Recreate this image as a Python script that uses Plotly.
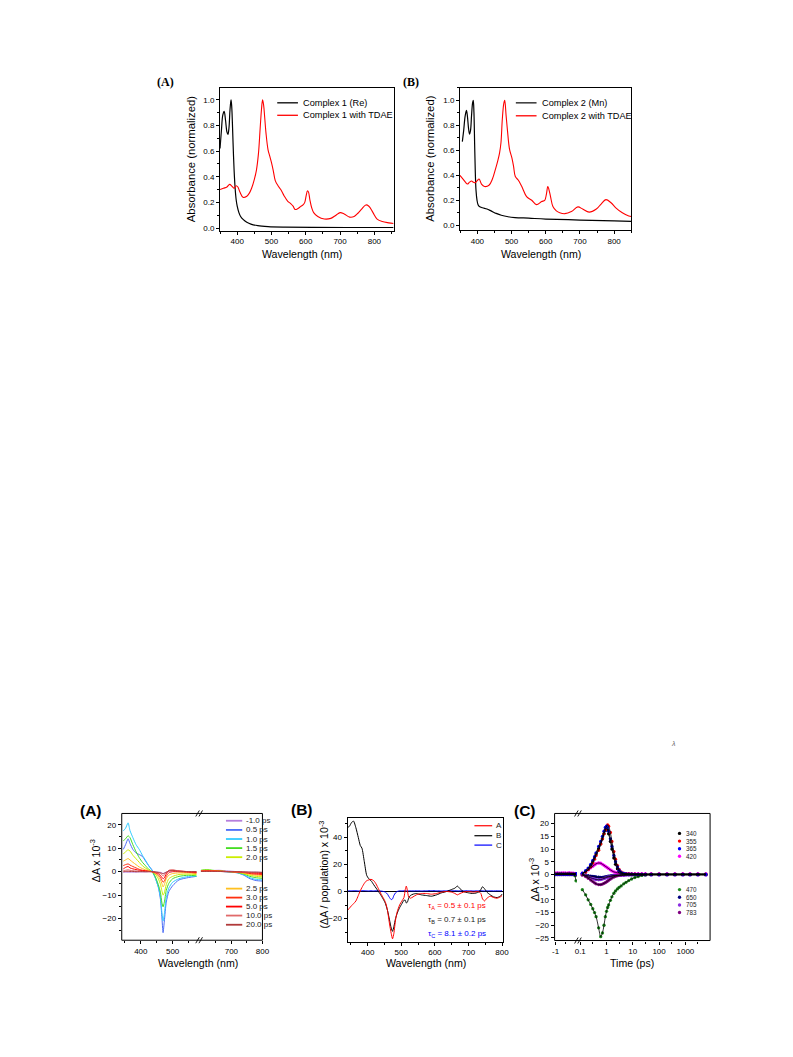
import plotly.graph_objects as go

PAGE_W, PAGE_H = 793, 1057
OFF = 8  # default body margin of the html page
W, H = PAGE_W - OFF, PAGE_H - OFF
FONT = "Arial, 'Liberation Sans', sans-serif"
SERIF = "'Times New Roman', 'Liberation Serif', serif"

# ---------------- Top (A): Complex 1 (Re) ----------------
wl_re = [350, 354, 358, 362, 366, 370, 373, 376, 379, 382, 384, 386, 388, 391, 394, 397, 400, 405,
         410, 418, 428, 440, 460, 490, 540, 620, 720, 856]
abs_re = [0.62, 0.76, 0.88, 0.91, 0.84, 0.75, 0.73, 0.78, 0.92, 1.0, 0.95, 0.82, 0.66, 0.45, 0.31,
          0.22, 0.17, 0.12, 0.09, 0.065, 0.045, 0.03, 0.018, 0.011, 0.007, 0.005, 0.004, 0.004]
wl_re_tdae = [350, 360, 370, 378, 385, 391, 397, 402, 408, 417, 427, 435, 442, 450, 456, 462, 467,
              471, 474, 477, 480, 484, 490, 495, 500, 505, 511, 519, 527, 537, 547, 556, 563, 569,
              576, 586, 592, 597, 601, 605, 608, 612, 617, 623, 635, 654, 673, 688, 700, 712, 728,
              741, 752, 762, 775, 784, 796, 808, 823, 842, 856]
abs_re_tdae = [0.30, 0.31, 0.32, 0.34, 0.325, 0.31, 0.33, 0.32, 0.28, 0.24, 0.245, 0.27, 0.31, 0.38,
               0.45, 0.58, 0.78, 0.93, 1.0, 0.96, 0.87, 0.74, 0.61, 0.56, 0.51, 0.45, 0.37, 0.33,
               0.30, 0.25, 0.21, 0.19, 0.17, 0.145, 0.15, 0.17, 0.18, 0.20, 0.25, 0.29, 0.28, 0.22,
               0.16, 0.12, 0.09, 0.07, 0.075, 0.10, 0.12, 0.11, 0.085, 0.09, 0.115, 0.145, 0.18,
               0.17, 0.12, 0.07, 0.05, 0.04, 0.035]

# ---------------- Top (B): Complex 2 (Mn) ----------------
wl_mn = [356, 360, 364, 368, 371, 374, 377, 380, 383, 386, 388, 390, 392, 394, 396, 399, 402, 406,
         415, 428, 440, 455, 470, 490, 510, 550, 600, 700, 800, 850]
abs_mn = [0.67, 0.76, 0.87, 0.92, 0.87, 0.78, 0.73, 0.76, 0.88, 0.98, 1.0, 0.9, 0.65, 0.42, 0.28,
          0.2, 0.165, 0.15, 0.14, 0.13, 0.115, 0.095, 0.08, 0.068, 0.062, 0.057, 0.05, 0.042,
          0.035, 0.032]
wl_mn_tdae = [349, 358, 365, 371, 377, 383, 388, 393, 399, 405, 412, 421, 434, 444, 453, 460, 465,
              469, 473, 477, 480, 484, 488, 494, 501, 506, 511, 520, 530, 544, 559, 573, 588, 597,
              602, 606, 609, 614, 621, 631, 641, 656, 675, 694, 708, 727, 748, 762, 776, 791, 805,
              824, 843, 850]
abs_mn_tdae = [0.40, 0.37, 0.345, 0.33, 0.345, 0.355, 0.345, 0.34, 0.355, 0.37, 0.33, 0.31, 0.32,
               0.37, 0.45, 0.52, 0.58, 0.66, 0.85, 0.97, 1.0, 0.88, 0.76, 0.61, 0.54, 0.47, 0.39,
               0.36, 0.31, 0.23, 0.2, 0.165, 0.19, 0.2, 0.25, 0.31, 0.29, 0.23, 0.15, 0.115, 0.1,
               0.093, 0.11, 0.147, 0.13, 0.105, 0.13, 0.17, 0.205, 0.18, 0.14, 0.1, 0.075, 0.07]

# ---------------- Bottom (A): transient spectra ----------------
wl_left = [345, 352, 360, 366, 375, 385, 395, 405, 415, 425, 435, 445, 455, 462, 466, 470, 474,
           480, 488, 500, 520, 550, 575]
wl_right = [602, 620, 640, 660, 680, 700, 720, 740, 760, 780, 800]
delay_labels = ["-1.0 ps", "0.5 ps", "1.0 ps", "1.5 ps", "2.0 ps",
                "2.5 ps", "3.0 ps", "5.0 ps", "10.0 ps", "20.0 ps"]
delay_colors = ["#B57EDC", "#4A6CF7", "#33CCFF", "#44DD22", "#CCEE00",
                "#FFC020", "#FF3010", "#FF0000", "#E06A6A", "#B03A3A"]
dA_m1p0_L = [-0.3, -0.2, -0.2, -0.2, -0.2, -0.2, -0.1, -0.1, -0.1, 0, 0, -0.1, -0.2, -0.3, -0.5,
             -0.8, -0.5, -0.2, 0, 0, 0, -0.1, -0.2]
dA_0p5_L = [9.5, 11.5, 14, 12, 9.5, 8, 7.3, 6.5, 4.5, 2.5, 0.8, -2.5, -6.5, -12, -19, -26, -21,
            -13, -8.5, -6, -3.5, -2.5, -2]
dA_1p0_L = [17.4, 18.5, 20.8, 17.5, 14.5, 11.5, 9.5, 7, 4.8, 2.5, 0.5, -2.5, -6.5, -11, -17, -21,
            -18, -11, -7, -4.5, -3, -2, -2]
dA_1p5_L = [13.2, 14, 15.3, 14.5, 11.5, 8.5, 6, 4, 2.5, 1, 0, -2, -5.5, -9, -13, -15, -13, -8,
            -5, -3, -2, -1.5, -1.8]
dA_2p0_L = [7.5, 8.5, 9.3, 8.8, 7, 5.5, 4, 2.5, 1.5, 0.7, 0, -1, -3, -5.5, -8, -10, -9, -5.5, -3,
            -2, -1.2, -1, -1.2]
dA_2p5_L = [4.5, 5, 5.6, 5, 4, 3, 2, 1.3, 0.8, 0.4, 0, -0.8, -2, -3.5, -5, -6.5, -5.5, -3, -1.5,
            -0.8, -0.5, -0.5, -0.8]
dA_3p0_L = [2.6, 3, 3.3, 2.8, 2.2, 1.6, 1, 0.6, 0.4, 0.2, 0, -0.5, -1.3, -2.5, -3.5, -4.5, -4, -2,
            -0.5, 0, 0, -0.3, -0.5]
dA_5p0_L = [1.2, 1.8, 2.2, 1.6, 1.2, 0.9, 0.6, 0.4, 0.3, 0.1, 0, -0.3, -0.8, -1.6, -2.4, -3, -2.6,
            -1, 0.5, 0.6, 0.3, 0, -0.3]
dA_10p0_L = [0.4, 0.6, 0.8, 0.6, 0.4, 0.3, 0.2, 0.1, 0, 0, 0, -0.2, -0.5, -0.8, -1.3, -1.8, -1.5,
             -0.5, 0.5, 0.8, 0.3, 0, 0]
dA_20p0_L = [0, 0.1, 0.2, 0.1, 0.1, 0, 0, 0, 0, 0, 0, -0.1, -0.3, -0.5, -0.7, -0.9, -0.7, -0.2,
             0.3, 0.5, 0.2, 0, 0]
dA_m1p0_R = [0.2, 0.3, 0.5, 0.6, 0.4, 0.2, 0, -0.1, -0.2, -0.2, -0.3]
dA_0p5_R = [0.3, 0.5, 0.3, 0.2, 0, -0.2, -0.5, -1.5, -3, -3.8, -4]
dA_1p0_R = [0.4, 0.6, 0.4, 0.2, 0, -0.2, -0.5, -1.3, -2.6, -3.3, -3.5]
dA_1p5_R = [0.6, 0.9, 0.6, 0.3, 0.1, -0.1, -0.4, -1, -2, -2.6, -2.8]
dA_2p0_R = [0.5, 0.7, 0.5, 0.3, 0.1, 0, -0.3, -0.8, -1.5, -2, -2.2]
dA_2p5_R = [0.4, 0.5, 0.4, 0.2, 0.1, 0, -0.2, -0.6, -1.1, -1.5, -1.6]
dA_3p0_R = [0.3, 0.4, 0.3, 0.2, 0.1, 0, -0.2, -0.4, -0.8, -1.1, -1.2]
dA_5p0_R = [0.2, 0.3, 0.3, 0.2, 0.1, 0, -0.1, -0.3, -0.5, -0.7, -0.8]
dA_10p0_R = [0.2, 0.2, 0.2, 0.1, 0, 0, -0.1, -0.2, -0.3, -0.4, -0.5]
dA_20p0_R = [0.1, 0.1, 0.1, 0.1, 0, 0, 0, -0.1, -0.2, -0.2, -0.3]

# ---------------- Bottom (B): decay-associated spectra ----------------
wl_das = [340, 345, 352, 358, 365, 372, 378, 383, 390, 397, 403, 410, 418, 425, 432, 440, 447, 453,
          459, 465, 470, 474, 478, 483, 488, 495, 502, 508, 512, 515, 518, 522, 527, 535, 545, 560,
          575, 590, 605, 620, 635, 650, 660, 667, 675, 685, 700, 715, 730, 737, 742, 748, 755, 765,
          775, 785, 795, 800]
das_A = [-14, -12.5, -10.5, -9, -7, -3, 0.5, 3, 6, 8, 8.5, 9, 8, 5.5, 2, -2, -5, -8, -14, -24,
         -31, -35, -31, -21, -15, -10, -7, -4.5, 1.5, 4, 1, -4, -5, -4, -2.5, -1.5, -1.5, -2, -1.5,
         -0.5, 0, -0.5, -1.5, -2.5, -1.5, -0.5, 0, -0.5, 0, -1.5, -5.5, -7, -5, -3.5, -4.5, -5, -4,
         -3]
das_B = [47.4, 48, 51, 52, 47, 40, 34, 32, 22, 12, 9.5, 8, 5, 2.5, 0, -3, -6, -9, -14, -21, -27,
         -29.5, -26, -20, -16, -12, -9, -6.5, -6.5, -8.5, -8, -5, -3, -2, -1.5, -2.5, -3, -3.5,
         -2.5, -1, 0, 1.5, 2.5, 4, 2, 0, -1, -1.5, -0.5, 1.5, 3.5, 2, -0.5, -2.5, -4, -4.5, -3.5, -2]
das_C = [0.5, 0.5, 0.5, 0.6, 0.5, 0.4, 0.5, 0.5, 0.6, 0.5, 0.4, 0.5, 0.4, 0.5, 0.4, 0.3, 0, -0.5,
         -2, -4.5, -6, -5.5, -3, -1, 0, 0.5, 0.4, 0.5, 0.6, 0.5, 0.4, 0.5, 0.5, 0.4, 0.5, 0.4, 0.5,
         0.6, 0.5, 0.4, 0.5, 0.6, 0.5, 0.5, 0.4, 0.5, 0.5, 0.4, 0.5, 0.6, 0.5, 0.4, 0.5, 0.5, 0.4,
         0.5, 0.5, 0.5]
tau_texts = ["τ<sub>A</sub> = 0.5 ± 0.1 ps", "τ<sub>B</sub> = 0.7 ± 0.1 ps", "τ<sub>C</sub> = 8.1 ± 0.2 ps"]

# ---------------- Bottom (C): kinetics ----------------
t_pre = [-1.0, -0.9, -0.8, -0.7, -0.6, -0.5, -0.4, -0.3, -0.2, -0.1, 0.0, 0.05]
t_log = [0.12, 0.16, 0.2, 0.25, 0.3, 0.35, 0.4, 0.5, 0.6, 0.7, 0.8, 0.9, 1.0, 1.1, 1.2, 1.4, 1.6,
         1.9, 2.2, 2.6, 3.0, 3.6, 4.5, 5.5, 7, 9, 12, 16, 22, 30, 50, 100, 200, 400, 800, 1500,
         3000, 6000]
probe_labels = ["340", "355", "365", "420", "470", "650", "705", "783"]
probe_colors = ["#000000", "#FF0000", "#0000FF", "#FF00FF", "#1E8C1E", "#000080", "#8A2BE2", "#800080"]
k340 = [0.3, 1, 2, 3.5, 5, 6.5, 8, 10, 12, 14, 16, 17.3, 18, 17.5, 16, 13, 10, 6.5, 4, 2.2, 1.2,
        0.6, 0.3, 0.2, 0.1, 0.1, 0, 0, 0, 0, 0, 0, 0, 0, 0, 0, 0, 0]
k355 = [0.3, 1, 2, 3, 4.5, 6, 7.5, 9.5, 12, 14, 16, 17.5, 19, 19.5, 19, 16.5, 13, 9, 6, 3.5, 2, 1,
        0.5, 0.3, 0.2, 0.1, 0.1, 0, 0, 0, 0, 0, 0, 0, 0, 0, 0, 0]
k365 = [0.5, 1.5, 2.5, 4, 5.5, 7, 8.5, 11, 13, 15, 17, 18.5, 19, 18.5, 17, 14, 11, 7.5, 5, 3, 1.7,
        0.8, 0.4, 0.2, 0.1, 0.1, 0, 0, 0, 0, 0, 0, 0, 0, 0, 0, 0, 0]
k420 = [0.5, 1, 1.8, 2.6, 3.2, 3.8, 4.2, 4.5, 4.4, 4, 3.6, 3.2, 2.9, 2.6, 2.3, 1.8, 1.4, 1, 0.8,
        0.6, 0.5, 0.4, 0.3, 0.3, 0.3, 0.3, 0.3, 0.3, 0.3, 0.3, 0.3, 0.3, 0.3, 0.3, 0.3, 0.3, 0.3, 0.3]
k470 = [-6, -8, -10, -11.8, -13.5, -15, -16.6, -21, -24.5, -23, -20, -16.6, -14.5, -13, -12, -10.2,
        -8.8, -7.4, -6.5, -5.7, -5.1, -4.5, -3.7, -3.1, -2.4, -1.8, -1.2, -0.8, -0.4, -0.2, 0, 0,
        0, 0, 0, 0, 0, 0]
k650 = [0, -0.3, -0.5, -0.7, -0.8, -0.9, -1, -1.1, -1.2, -1.2, -1.1, -1, -0.9, -0.8, -0.7, -0.6,
        -0.5, -0.4, -0.3, -0.2, -0.2, -0.1, -0.1, 0, 0, 0, 0, 0, 0, 0, 0, 0, 0, 0, 0, 0, 0, 0]
k705 = [0, -0.5, -1, -1.3, -1.6, -1.8, -2, -2.1, -2, -1.8, -1.6, -1.4, -1.2, -1.1, -1, -0.8, -0.7,
        -0.6, -0.5, -0.5, -0.4, -0.4, -0.4, -0.3, -0.3, -0.3, -0.3, -0.3, -0.3, -0.3, -0.3, -0.3,
        -0.3, -0.3, -0.3, -0.3, -0.3, -0.3]
k783 = [-0.3, -0.8, -1.5, -2.2, -2.8, -3.3, -3.7, -4, -4, -3.8, -3.5, -3.2, -2.9, -2.6, -2.3, -1.8,
        -1.4, -1, -0.7, -0.5, -0.3, -0.2, -0.1, 0, 0, 0, 0, 0, 0, 0, 0, 0, 0, 0, 0, 0, 0, 0]
p340 = [0, 0, 0, 0, 0, 0, 0, 0, 0, 0, 0, 0.2]
p355 = [0.1, 0, 0.1, 0, 0.1, 0, 0.1, 0, 0.1, 0, 0.1, 0.2]
p365 = [0, 0.1, 0, 0.1, 0, 0.1, 0, 0.1, 0, 0.1, 0, 0.3]
p420 = [0.5, 0.6, 0.5, 0.5, 0.6, 0.5, 0.5, 0.6, 0.5, 0.5, 0.4, 0.3]
p470 = [0, 0, 0, 0, 0, 0, 0, 0, 0, 0, -0.5, -2.5]
p650 = [0, -0.1, 0, -0.1, 0, -0.1, 0, -0.1, 0, -0.1, 0, 0]
p705 = [0.4, 0.5, 0.4, 0.5, 0.4, 0.5, 0.4, 0.5, 0.4, 0.4, 0.3, 0]
p783 = [-0.1, 0, -0.1, 0, -0.1, 0, -0.1, 0, -0.1, 0, -0.1, -0.2]


# ---------------- helpers (page pixel -> paper fraction) ----------------
def xp(px):
    return (px - OFF) / W


def yp(py):
    return 1 - (py - OFF) / H


def xdom(a, b):
    return [xp(a), xp(b)]


def ydom(top, bottom):
    return [yp(bottom), yp(top)]


shapes = []
annotations = []


def frame(x0, x1, y0, y1):
    shapes.append(dict(type="rect", xref="paper", yref="paper", x0=xp(x0), x1=xp(x1),
                       y0=yp(y1), y1=yp(y0), line=dict(color="black", width=1),
                       fillcolor="rgba(0,0,0,0)", layer="above"))


def brk(x, y):
    for dx in (-1.6, 1.6):
        shapes.append(dict(type="line", xref="paper", yref="paper",
                           x0=xp(x + dx - 1.8), y0=yp(y + 3), x1=xp(x + dx + 1.8), y1=yp(y - 3),
                           line=dict(color="black", width=0.9), layer="above"))


def text(x, y, s, size, color="black", anchor="left", family=FONT, angle=0, yanchor="middle"):
    annotations.append(dict(x=xp(x), y=yp(y), xref="paper", yref="paper", text=s,
                            showarrow=False, xanchor=anchor, yanchor=yanchor, textangle=angle,
                            font=dict(size=size, color=color, family=family)))


def legline(x0, x1, y, color, width=1.5):
    shapes.append(dict(type="line", xref="paper", yref="paper", x0=xp(x0), x1=xp(x1),
                       y0=yp(y), y1=yp(y), line=dict(color=color, width=width)))


def legdot(x, y, color, r=1.7):
    shapes.append(dict(type="circle", xref="paper", yref="paper", x0=xp(x - r), x1=xp(x + r),
                       y0=yp(y + r), y1=yp(y - r), fillcolor=color, line=dict(color=color, width=0)))


def axis(domain, rng, line=True, **kw):
    d = dict(domain=domain, range=rng, showgrid=False, zeroline=False, ticks="outside",
             ticklen=3, tickwidth=0.8, tickcolor="black",
             tickfont=dict(size=8, family=FONT, color="black"),
             showline=line, linecolor="black", linewidth=1, mirror=line)
    d.update(kw)
    return d


fig = go.Figure()

# ---- top A
fig.add_trace(go.Scatter(x=wl_re, y=abs_re, mode="lines", line=dict(color="black", width=1.2, shape="spline"),
                         xaxis="x", yaxis="y", showlegend=False))
fig.add_trace(go.Scatter(x=wl_re_tdae, y=abs_re_tdae, mode="lines", line=dict(color="#FF0000", width=1.1, shape="spline"),
                         xaxis="x", yaxis="y", showlegend=False))
# ---- top B
fig.add_trace(go.Scatter(x=wl_mn, y=abs_mn, mode="lines", line=dict(color="black", width=1.2, shape="spline"),
                         xaxis="x2", yaxis="y2", showlegend=False))
fig.add_trace(go.Scatter(x=wl_mn_tdae, y=abs_mn_tdae, mode="lines", line=dict(color="#FF0000", width=1.1, shape="spline"),
                         xaxis="x2", yaxis="y2", showlegend=False))

# ---- bottom A
left_sets = [dA_m1p0_L, dA_0p5_L, dA_1p0_L, dA_1p5_L, dA_2p0_L, dA_2p5_L, dA_3p0_L, dA_5p0_L, dA_10p0_L, dA_20p0_L]
right_sets = [dA_m1p0_R, dA_0p5_R, dA_1p0_R, dA_1p5_R, dA_2p0_R, dA_2p5_R, dA_3p0_R, dA_5p0_R, dA_10p0_R, dA_20p0_R]
for vals_l, vals_r, col in zip(left_sets, right_sets, delay_colors):
    fig.add_trace(go.Scatter(x=wl_left, y=vals_l, mode="lines", line=dict(color=col, width=1, shape="spline", smoothing=0.6),
                             xaxis="x3", yaxis="y3", showlegend=False))
    fig.add_trace(go.Scatter(x=wl_right, y=vals_r, mode="lines", line=dict(color=col, width=1, shape="spline", smoothing=0.6),
                             xaxis="x4", yaxis="y3", showlegend=False))

# ---- bottom B
for vals, col in zip([das_C, das_B, das_A], ["#0000FF", "#000000", "#FF0000"]):
    fig.add_trace(go.Scatter(x=wl_das, y=vals, mode="lines", line=dict(color=col, width=1, shape="spline", smoothing=0.6),
                             xaxis="x5", yaxis="y5", showlegend=False))

# ---- bottom C
log_sets = [k340, k355, k365, k420, k470, k650, k705, k783]
pre_sets = [p340, p355, p365, p420, p470, p650, p705, p783]
draw_order = [5, 6, 7, 3, 4, 0, 1, 2]
for i in draw_order:
    fig.add_trace(go.Scatter(x=t_pre, y=pre_sets[i], mode="markers", marker=dict(color=probe_colors[i], size=3.3),
                             xaxis="x6", yaxis="y6", showlegend=False))
    fig.add_trace(go.Scatter(x=t_log, y=log_sets[i], mode="markers", marker=dict(color=probe_colors[i], size=3.3),
                             xaxis="x7", yaxis="y6", showlegend=False))
for i in draw_order:
    fig.add_trace(go.Scatter(x=t_pre, y=pre_sets[i], mode="lines", line=dict(color="black", width=0.8),
                             xaxis="x6", yaxis="y6", showlegend=False))
    fig.add_trace(go.Scatter(x=t_log, y=log_sets[i], mode="lines", line=dict(color="black", width=0.8, shape="spline"),
                             xaxis="x7", yaxis="y6", showlegend=False))

# ---------------- axes ----------------
minor_x = dict(dtick=50, ticks="outside", ticklen=2, tickcolor="black")
layout_axes = dict(
    xaxis=axis(xdom(219, 395), [350, 856], dtick=100, minor=minor_x, anchor="y"),
    yaxis=axis(ydom(88, 231), [-0.02, 1.093], dtick=0.2, tickformat=".1f",
               minor=dict(dtick=0.1, ticks="outside", ticklen=2, tickcolor="black"), anchor="x"),
    xaxis2=axis(xdom(462.3, 636), [349, 850], dtick=100, minor=minor_x, anchor="y2"),
    yaxis2=axis(ydom(88, 230.7), [-0.04, 1.10], dtick=0.2, tickformat=".1f",
                minor=dict(dtick=0.1, ticks="outside", ticklen=2, tickcolor="black"), anchor="x2"),
    xaxis3=axis(xdom(119.3, 196.7), [340, 580], line=False, tickvals=[400, 500],
                minor=dict(tickvals=[350, 450, 550], ticks="outside", ticklen=2, tickcolor="black"), anchor="y3"),
    xaxis4=axis(xdom(199, 262), [600, 800], line=False, tickvals=[700, 800],
                minor=dict(tickvals=[650, 750], ticks="outside", ticklen=2, tickcolor="black"), anchor="y3"),
    yaxis3=axis(ydom(815, 942), [-29.2, 24.8], line=False, tickvals=[-20, -10, 0, 10, 20],
                minor=dict(tickvals=[-25, -15, -5, 5, 15], ticks="outside", ticklen=2, tickcolor="black"), anchor="x3"),
    xaxis5=axis(xdom(348.3, 506), [340, 803], dtick=100, minor=minor_x, anchor="y5"),
    yaxis5=axis(ydom(820, 943.3), [-37, 54], tickvals=[-20, 0, 20, 40],
                minor=dict(tickvals=[-30, -10, 10, 30, 50], ticks="outside", ticklen=2, tickcolor="black"),
                zeroline=True, zerolinecolor="black", zerolinewidth=1, anchor="x5"),
    xaxis6=axis(xdom(558.3, 581), [-1.05, 0.1], line=False, tickvals=[-1], ticktext=["-1"],
                minor=dict(tickvals=[-0.5], ticks="outside", ticklen=2, tickcolor="black"), anchor="y6"),
    xaxis7=axis(xdom(583, 716), [-1.05, 3.94], line=False, type="log",
                tickvals=[0.1, 1, 10, 100, 1000], ticktext=["0.1", "1", "10", "100", "1000"],
                minor=dict(tickvals=[0.3, 3, 30, 300, 3000], ticks="outside", ticklen=2, tickcolor="black"), anchor="y6"),
    yaxis6=axis(ydom(815, 942.3), [-26, 24], line=False, tickvals=[-25, -20, -15, -10, -5, 0, 5, 10, 15, 20],
                anchor="x6"),
)

# ---------------- frames and breaks ----------------
frame(119.3, 262, 815, 942)
brk(197.8, 815)
brk(197.8, 942)
frame(558.3, 716, 815, 942.3)
brk(582, 815)
brk(582, 942.3)

# ---------------- texts ----------------
text(164, 82.5, "<b>(A)</b>", 12, family=SERIF, anchor="center")
text(413, 82.5, "<b>(B)</b>", 12, family=SERIF, anchor="center")
text(189, 159, "Absorbance (normalized)", 11.3, angle=-90, anchor="center")
text(432, 159, "Absorbance (normalized)", 11.3, angle=-90, anchor="center")
text(302, 254, "Wavelength (nm)", 10.6, anchor="center")
text(545, 254, "Wavelength (nm)", 10.6, anchor="center")

legline(277, 298, 103, "black", 1.3)
text(301, 103, "Complex 1 (Re)", 9.2)
legline(277, 298, 115.5, "#FF0000", 1.3)
text(301, 115.5, "Complex 1 with TDAE", 9.2)
legline(519, 540, 103, "#444444", 1.6)
text(543, 103, "Complex 2 (Mn)", 9.2)
legline(519, 540, 116, "#FF0000", 1.3)
text(543, 116, "Complex 2 with TDAE", 9.2)

text(88, 812.5, "<b>(A)</b>", 15.5, anchor="center")
text(302.5, 811.5, "<b>(B)</b>", 15.5, anchor="center")
text(528, 812, "<b>(C)</b>", 15.5, anchor="center")

text(92, 862, "ΔA x 10<sup>-3</sup>", 10.6, angle=-90, anchor="center")
text(323.5, 876, "(ΔA / population) x 10<sup>-3</sup>", 10.6, angle=-90, anchor="center")
text(537, 881, "ΔA x 10<sup>-3</sup>", 10.6, angle=-90, anchor="center")
text(197, 965, "Wavelength (nm)", 10.6, anchor="center")
text(428, 965, "Wavelength (nm)", 10.6, anchor="center")
text(637, 965, "Time (ps)", 10.6, anchor="center")

# bottom A legend
rows_y = [822.3, 831.5, 840.6, 849.7, 858.8, 890.3, 899.3, 908.3, 917.3, 926.5]
for lab, col, yy in zip(delay_labels, delay_colors, rows_y):
    legline(225, 241.5, yy, col, 1.8)
    text(243, yy, lab, 8, color="#222222")

# bottom B legend
for lab, col, yy in zip(["A", "B", "C"], ["#FF0000", "#000000", "#0000FF"], [827.3, 837.3, 846.7]):
    legline(477, 495, yy, col, 1.2)
    text(497, yy, lab, 8, color="#222222")
for s, col, yy in zip(tau_texts, ["#FF0000", "#222222", "#0000FF"], [908, 922, 935.5]):
    text(428, yy, s, 8, color=col)

# bottom C legend
rows_c = [835, 842.7, 850.3, 857.8, 891.3, 899, 906.7, 914.2]
for lab, col, yy in zip(probe_labels, probe_colors, rows_c):
    legdot(685, yy, col)
    text(690, yy, lab, 6.3, color="#222222")

text(679, 745, "<i>λ</i>", 7, color="#666666", anchor="center")

fig.update_layout(width=W, height=H, margin=dict(l=0, r=0, t=0, b=0),
                  paper_bgcolor="white", plot_bgcolor="white",
                  font=dict(family=FONT, color="black"),
                  shapes=shapes, annotations=annotations, showlegend=False, **layout_axes)

fig.write_html("out.html")
